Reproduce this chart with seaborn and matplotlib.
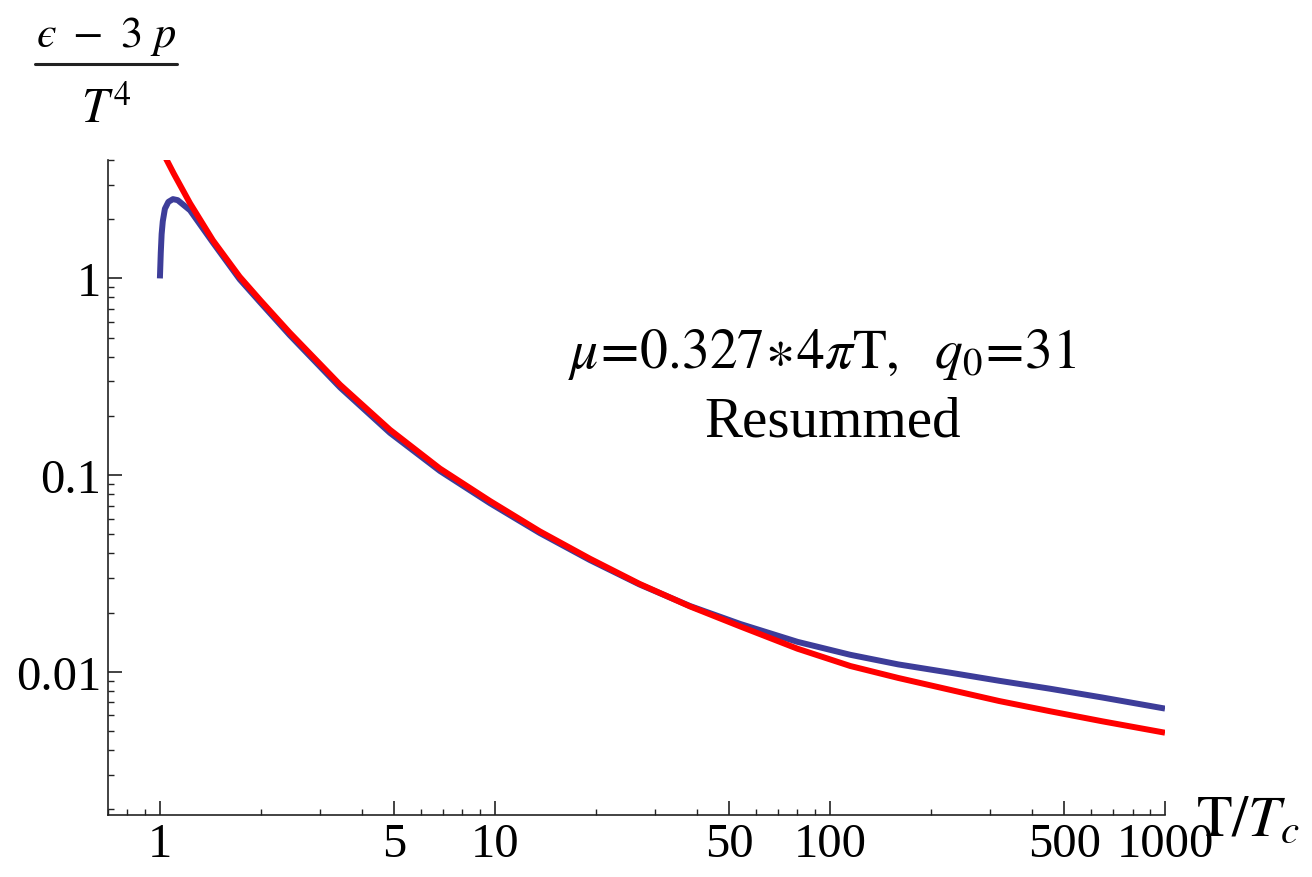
import numpy as np
import pandas as pd
import matplotlib
matplotlib.use("Agg")
import matplotlib.pyplot as plt
import matplotlib.ticker as mticker
from matplotlib.lines import Line2D
import seaborn as sns

# ==========================
# data
# ==========================
blue_x = [1.0, 1.006, 1.012, 1.02, 1.035, 1.06, 1.094, 1.13, 1.23, 1.44, 1.73,
          2.0, 2.44, 3.45, 4.86, 6.85, 9.66, 13.6, 19.2, 27, 38.2, 54, 80, 115,
          160, 228, 320, 454, 650, 1000]
blue_y = [1.0, 1.35, 1.68, 1.95, 2.26, 2.45, 2.53, 2.5, 2.22, 1.52, 0.99,
          0.75, 0.515, 0.279, 0.164, 0.105, 0.0720, 0.0508, 0.0370, 0.0278,
          0.0216, 0.0175, 0.0142, 0.0122, 0.0109, 0.0099, 0.0090, 0.0082,
          0.0074, 0.0065]

red_x = [1.04, 1.1, 1.23, 1.44, 1.73, 2.0, 2.44, 3.45, 4.86, 6.85, 9.66, 13.6,
         19.2, 27, 38.2, 54, 80, 115, 160, 228, 320, 454, 650, 1000]
red_y = [4.1, 3.41, 2.41, 1.56, 1.02, 0.77, 0.53, 0.288, 0.170, 0.108, 0.0739,
         0.0518, 0.0376, 0.0280, 0.0215, 0.0170, 0.0131, 0.0107, 0.0093, 0.0081,
         0.0071, 0.0063, 0.0056, 0.0049]

x_ticks = [1, 5, 10, 50, 100, 500, 1000]
y_ticks = [0.01, 0.1, 1]
y_tick_labels = ["0.01", "0.1", "1"]

BLUE = "#3d3d99"
RED = "#ff0000"

sns.set_theme(style="ticks")
plt.rcParams["font.family"] = ["Liberation Serif", "DejaVu Serif"]
plt.rcParams["mathtext.fontset"] = "stix"
plt.rcParams["text.color"] = "black"

W, H = 1312, 878
fig = plt.figure(figsize=(W / 100, H / 100), dpi=100)
ax = fig.add_axes([108 / W, 1 - 816 / H, (1165 - 108) / W, (816 - 161) / H])

df_b = pd.DataFrame({"x": blue_x, "y": blue_y})
df_r = pd.DataFrame({"x": red_x, "y": red_y})
sns.lineplot(data=df_b, x="x", y="y", ax=ax, color=BLUE, lw=4.3, sort=False,
             estimator=None, solid_capstyle="butt", solid_joinstyle="round")
sns.lineplot(data=df_r, x="x", y="y", ax=ax, color=RED, lw=4.3, sort=False,
             estimator=None, solid_capstyle="butt", solid_joinstyle="round")

ax.set_xscale("log")
ax.set_yscale("log")
ax.set_xlim(0.70, 1000)
ax.set_ylim(0.00187, 4.0)

ax.xaxis.set_major_locator(mticker.FixedLocator(x_ticks))
ax.xaxis.set_major_formatter(mticker.FixedFormatter([str(t) for t in x_ticks]))
ax.xaxis.set_minor_locator(mticker.LogLocator(base=10, subs=[2, 3, 4, 6, 7, 8, 9]))
ax.xaxis.set_minor_formatter(mticker.NullFormatter())
ax.yaxis.set_major_locator(mticker.FixedLocator(y_ticks))
ax.yaxis.set_major_formatter(mticker.FixedFormatter(y_tick_labels))
ax.yaxis.set_minor_locator(mticker.LogLocator(base=10, subs=np.arange(2, 10)))
ax.yaxis.set_minor_formatter(mticker.NullFormatter())

ax.tick_params(which="major", direction="in", length=10, width=1.2,
               labelsize=35, colors="#222222", labelcolor="black")
ax.tick_params(which="minor", direction="in", length=4.5, width=1.0, colors="#222222")
ax.tick_params(axis="x", which="major", pad=5)
ax.tick_params(axis="y", which="major", pad=5)

for s in ["top", "right"]:
    ax.spines[s].set_visible(False)
for s in ["left", "bottom"]:
    ax.spines[s].set_linewidth(1.2)
    ax.spines[s].set_color("#222222")
ax.set_xlabel("")
ax.set_ylabel("")

# annotation
fig.text(822 / W, 1 - 355 / H, r"$\mu\!=\!0.327\!\ast\!4\pi\mathrm{T},\ \ q_0\!=\!31$",
         ha="center", va="center", fontsize=40)
fig.text(833 / W, 1 - 423 / H, "Resummed", ha="center", va="center", fontsize=41)

# x label
fig.text(1196 / W, 1 - 822 / H, r"$\mathrm{T}/T_c$", ha="left", va="center", fontsize=42)

# y label drawn as a fraction
fig.text(106 / W, 1 - 36 / H, "$\u03f5\\ -\\ 3\\ p$", ha="center", va="center", fontsize=32)
fig.add_artist(Line2D([35 / W, 177 / W], [1 - 65 / H, 1 - 65 / H],
                      transform=fig.transFigure, color="#222222", lw=2.2))
fig.text(106 / W, 1 - 110 / H, r"$T^4$", ha="center", va="center", fontsize=35)

fig.savefig("out.png", dpi=100)
